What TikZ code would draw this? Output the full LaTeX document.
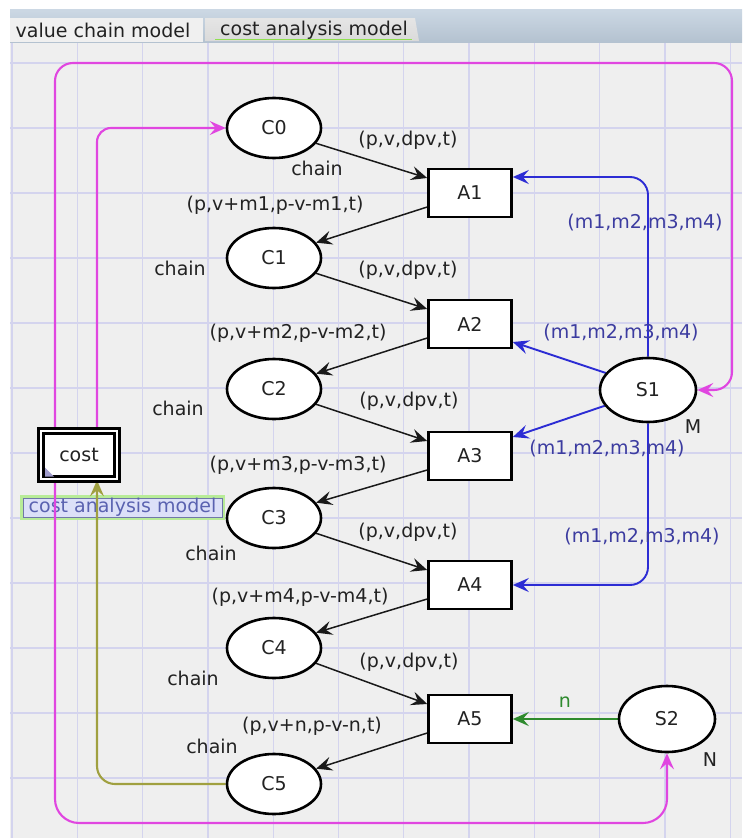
\documentclass[tikz,border=0pt]{standalone}
\usepackage{fontspec}
\setmainfont{DejaVu Sans}
\usetikzlibrary{shapes.geometric,arrows.meta,calc}
\definecolor{gridbg}{HTML}{EFEFEF}
\definecolor{gridln}{HTML}{D4D4EE}
\definecolor{magc}{HTML}{E046E0}
\definecolor{bluec}{HTML}{2C2CD4}
\definecolor{bluetxt}{HTML}{3C3CA0}
\definecolor{greenc}{HTML}{2E8A2E}
\definecolor{olivec}{HTML}{A0A040}
\definecolor{txtc}{HTML}{222222}
\definecolor{bartop}{HTML}{CCD8E4}
\definecolor{barbot}{HTML}{B4C2D0}
\definecolor{tabact}{HTML}{F0F0F0}
\definecolor{tabin}{HTML}{DADADA}
\definecolor{tabgreen}{HTML}{90E050}
\definecolor{cafill}{HTML}{DCE0F8}
\definecolor{cadraw}{HTML}{7078A8}
\definecolor{catxt}{HTML}{5A62B0}
\definecolor{caglow}{HTML}{B8EC98}
\definecolor{tri}{HTML}{A09CCC}
\pgfdeclarelayer{back}
\pgfdeclarelayer{edges}
\pgfsetlayers{back,edges,main}
\tikzset{
  f18/.style={font=\fontsize{19}{21}\selectfont},
  place/.style={ellipse, draw=black, line width=2.6pt, fill=white, minimum width=94pt, minimum height=60pt, inner sep=0pt, f18, text=txtc},
  trans/.style={rectangle, draw=black, line width=2.6pt, fill=white, minimum width=83pt, minimum height=48pt, inner sep=0pt, f18, text=txtc},
  lbl/.style={inner sep=0pt, f18, text=txtc},
  blbl/.style={inner sep=0pt, f18, text=bluetxt},
  tip/.style={-{Stealth[length=16pt,width=14pt,inset=6pt]}},
  blk/.style={tip, draw=black!90, line width=1.5pt},
  bluearc/.style={tip, draw=bluec, line width=1.9pt},
  magarc/.style={tip, draw=magc, line width=2.1pt, rounded corners=18pt},
  olivearc/.style={tip, draw=olivec, line width=2.1pt, rounded corners=18pt},
  greenarc/.style={tip, draw=greenc, line width=2.4pt}
}
\begin{document}
\begin{tikzpicture}[x=1pt,y=-1pt]
\useasboundingbox (0,0) rectangle (742,838);
\begin{pgfonlayer}{back}
\fill[white] (0,0) rectangle (742,838);
\fill[gridbg] (10,42) rectangle (742,838);
\foreach \i in {0,...,11} \draw[gridln, line width=1.3pt] ({12+65.3*\i},42) -- ({12+65.3*\i},838);
\foreach \j in {0,...,11} \draw[gridln, line width=1.3pt] (10,{63+65*\j}) -- (742,{63+65*\j});
\shade[top color=bartop, bottom color=barbot] (10,9) rectangle (742,42);
\fill[tabact] (10,18) rectangle (203,42);
\shade[top color=tabin!70!white, bottom color=tabin] (205,18) -- (415,18) -- (419,41) -- (205,41) -- cycle;
\draw[tabgreen, line width=1.6pt] (215,39.5) -- (412,39.5);
\end{pgfonlayer}
\node[lbl] (tab1) at (103,30) {value chain model};
\node[lbl] (tab2) at (314,30) {cost analysis model};
% places
\node[place] (C0) at (274,128) {C0};
\node[place] (C1) at (274,258) {C1};
\node[place] (C2) at (274,389) {C2};
\node[place] (C3) at (274,518) {C3};
\node[place] (C4) at (274,648) {C4};
\node[place] (C5) at (274,784) {C5};
\node[place, minimum width=96pt, minimum height=64pt] (S1) at (648,390) {S1};
\node[place, minimum width=96pt, minimum height=66pt] (S2) at (667,719) {S2};
% transitions
\node[trans] (A1) at (470,193) {A1};
\node[trans] (A2) at (470,324) {A2};
\node[trans] (A3) at (470,456) {A3};
\node[trans] (A4) at (470,585) {A4};
\node[trans] (A5) at (470,719) {A5};
% substitution transition
\node[rectangle, draw=black, line width=2.6pt, double=white, double distance=2pt, fill=white, minimum width=76pt, minimum height=48pt, inner sep=0pt, f18, text=txtc] (cost) at (79,455) {cost};
\fill[tri] (45,476.5) -- (45,467.5) -- (54,476.5) -- cycle;
% inscriptions
\node[lbl] (l01) at (408,140) {(p,v,dpv,t)};
\node[lbl] (l02) at (317,168) {chain};
\node[lbl] (l03) at (275,205) {(p,v+m1,p-v-m1,t)};
\node[lbl] (l04) at (180,268) {chain};
\node[lbl] (l05) at (408,270) {(p,v,dpv,t)};
\node[lbl] (l06) at (298,333) {(p,v+m2,p-v-m2,t)};
\node[lbl] (l07) at (178,408) {chain};
\node[lbl] (l08) at (409,401) {(p,v,dpv,t)};
\node[lbl] (l09) at (298,465) {(p,v+m3,p-v-m3,t)};
\node[lbl] (l10) at (408,532) {(p,v,dpv,t)};
\node[lbl] (l11) at (211,553) {chain};
\node[lbl] (l12) at (300,597) {(p,v+m4,p-v-m4,t)};
\node[lbl] (l13) at (193,678) {chain};
\node[lbl] (l14) at (409,662) {(p,v,dpv,t)};
\node[lbl] (l15) at (312,726) {(p,v+n,p-v-n,t)};
\node[lbl] (l16) at (212,746) {chain};
\node[blbl] (b1) at (645,223) {(m1,m2,m3,m4)};
\node[blbl] (b2) at (621,333) {(m1,m2,m3,m4)};
\node[blbl] (b3) at (607,449) {(m1,m2,m3,m4)};
\node[blbl] (b4) at (642,537) {(m1,m2,m3,m4)};
\node[lbl, text=greenc] (nl) at (565,702) {n};
\node[lbl] (Ml) at (693,427) {M};
\node[lbl] (Nl) at (710,760) {N};
\begin{pgfonlayer}{edges}
\node[rectangle, fill=cafill, draw=cadraw, line width=0.8pt, minimum width=199pt, minimum height=19pt, inner sep=0pt, f18, text=catxt,
  preaction={draw=caglow, line width=6pt}] (calabel) at (122.5,507.5) {cost analysis model};
% black arcs
\draw[blk] (C0.-20) -- ([yshift=15pt]A1.west);
\draw[blk] ([yshift=-14pt]A1.west) -- (C1.20);
\draw[blk] (C1.-20) -- ([yshift=15pt]A2.west);
\draw[blk] ([yshift=-14pt]A2.west) -- (C2.20);
\draw[blk] (C2.-20) -- ([yshift=15pt]A3.west);
\draw[blk] ([yshift=-14pt]A3.west) -- (C3.20);
\draw[blk] (C3.-20) -- ([yshift=15pt]A4.west);
\draw[blk] ([yshift=-14pt]A4.west) -- (C4.20);
\draw[blk] (C4.-20) -- ([yshift=15pt]A5.west);
\draw[blk] ([yshift=-14pt]A5.west) -- (C5.20);
% blue arcs
\draw[bluearc, rounded corners=18pt] (S1.north) |- ([yshift=16pt]A1.east);
\draw[bluearc] (S1.158) -- ([yshift=-18pt]A2.east);
\draw[bluearc] (S1.200) -- ([yshift=19pt]A3.east);
\draw[bluearc, rounded corners=18pt] (S1.south) |- (A4.east);
% green arc
\draw[greenarc] (S2.west) -- (A5.east);
% magenta arcs
\draw[magarc] ([xshift=-24pt]cost.north) |- (732,63) |- (S1.east);
\draw[magarc, rounded corners=24pt] ([xshift=-24pt]cost.south) |- (S2.south |- 0,823) -- (S2.south);
\draw[magarc, rounded corners=14pt] ([xshift=18pt]cost.north) |- (C0.west);
% olive arc
\draw[olivearc] (C5.west) -| ([xshift=18pt]cost.south);
\end{pgfonlayer}
\end{tikzpicture}
\end{document}
